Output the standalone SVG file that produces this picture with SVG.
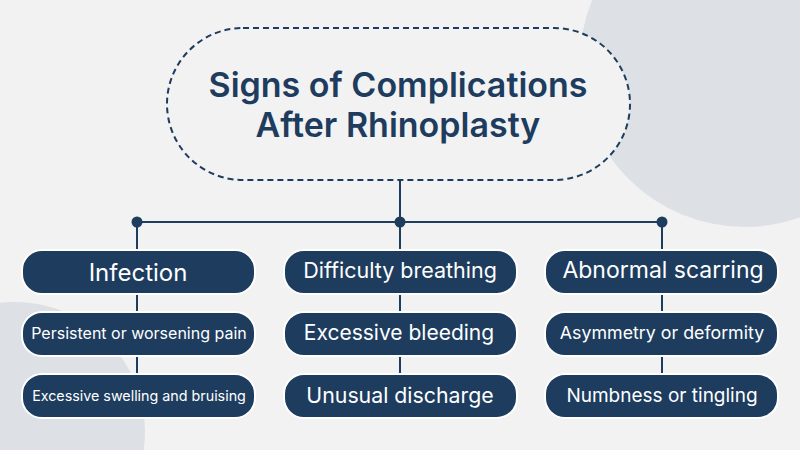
<svg xmlns="http://www.w3.org/2000/svg" width="800" height="450" viewBox="0 0 800 450">
<style>
.box{fill:#1d3c5e;stroke:#fff;stroke-width:2}
.t{fill:#fff;font-family:Inter,"Noto Sans",sans-serif;text-anchor:middle;dominant-baseline:central}
.ln{stroke:#1d3c5e;stroke-width:2;fill:none}
</style>
<rect width="800" height="450" fill="#f2f2f2"/>
<circle cx="745" cy="62" r="165" fill="#dde1e5"/>
<circle cx="15" cy="432" r="130" fill="#dde1e5"/>
<g id="title">
<rect x="167" y="28" width="463" height="152" rx="76" fill="#f2f2f2" stroke="#1d3c5e" stroke-width="2" stroke-dasharray="6 4"/>
<text x="398" y="84" font-family="Inter,sans-serif" font-size="34" font-weight="600" fill="#1d3c5e" text-anchor="middle" dominant-baseline="central">Signs of Complications</text>
<text x="398" y="124" font-family="Inter,sans-serif" font-size="34" font-weight="600" fill="#1d3c5e" text-anchor="middle" dominant-baseline="central">After Rhinoplasty</text>
</g>
<g id="connectors">
<path class="ln" d="M400 180V250M137 222H662M137 222V250M662 222V250M137 293V312M137 356V374M400 293V312M400 356V374M662 293V312M662 356V374"/>
<circle cx="137" cy="222" r="5.5" fill="#1d3c5e"/>
<circle cx="400" cy="222" r="5.5" fill="#1d3c5e"/>
<circle cx="662" cy="222" r="5.5" fill="#1d3c5e"/>
</g>
<g id="n1"><rect class="box" x="22" y="250" width="233" height="44" rx="20"/><text class="t" x="138" y="272" font-size="24">Infection</text></g>
<g id="n2"><rect class="box" x="22" y="312" width="233" height="44" rx="20"/><text class="t" x="139" y="333" font-size="16">Persistent or worsening pain</text></g>
<g id="n3"><rect class="box" x="22" y="374" width="233" height="44" rx="20"/><text class="t" x="139" y="395" font-size="14.3">Excessive swelling and bruising</text></g>
<g id="n4"><rect class="box" x="284" y="250" width="233" height="44" rx="20"/><text class="t" x="400" y="270" font-size="21.5">Difficulty breathing</text></g>
<g id="n5"><rect class="box" x="284" y="312" width="233" height="44" rx="20"/><text class="t" x="399" y="332" font-size="21">Excessive bleeding</text></g>
<g id="n6"><rect class="box" x="284" y="374" width="233" height="44" rx="20"/><text class="t" x="400" y="395" font-size="21.3">Unusual discharge</text></g>
<g id="n7"><rect class="box" x="545" y="250" width="233" height="44" rx="20"/><text class="t" x="663" y="270" font-size="23">Abnormal scarring</text></g>
<g id="n8"><rect class="box" x="545" y="312" width="233" height="44" rx="20"/><text class="t" x="662" y="332" font-size="17.8">Asymmetry or deformity</text></g>
<g id="n9"><rect class="box" x="545" y="374" width="233" height="44" rx="20"/><text class="t" x="662" y="395" font-size="19">Numbness or tingling</text></g>
</svg>
